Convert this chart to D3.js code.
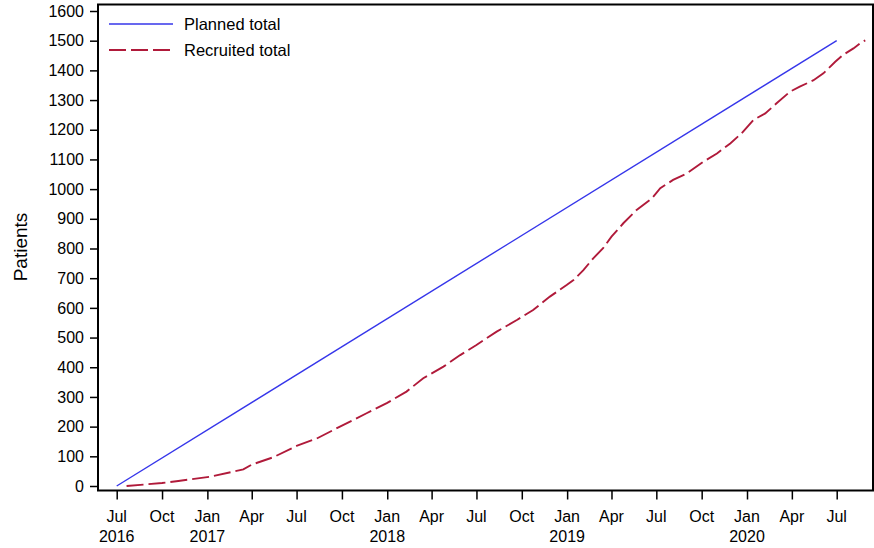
<!DOCTYPE html>
<html>
<head>
<meta charset="utf-8">
<script src="https://cdn.jsdelivr.net/npm/d3@7"></script>
<style>
  html, body { margin: 0; padding: 0; background: #fff; }
  svg { display: block; font-family: Arial, "Liberation Sans", sans-serif; }
</style>
</head>
<body>
<svg id="chart" width="874" height="548"></svg>
<script>
// Planned recruitment: straight line from start to target
const plannedDates = ["2016-07-01", "2020-07-01"];
const plannedValues = [0, 1500];

// Cumulative recruited patients
const recruitedDates = [
  "2016-07-21", "2016-10-01", "2016-11-03", "2017-01-06", "2017-03-15", "2017-04-01",
  "2017-05-15", "2017-07-01", "2017-08-11", "2017-09-27", "2017-11-20", "2017-12-31",
  "2018-02-09", "2018-03-15", "2018-04-25", "2018-05-29", "2018-07-01", "2018-08-11",
  "2018-09-21", "2018-10-24", "2018-11-27", "2018-12-31", "2019-01-14", "2019-02-03",
  "2019-02-23", "2019-03-15", "2019-04-01", "2019-04-25", "2019-05-22", "2019-06-22",
  "2019-07-09", "2019-08-04", "2019-09-01", "2019-10-04", "2019-11-01", "2019-11-28",
  "2019-12-21", "2020-01-14", "2020-02-07", "2020-03-01", "2020-03-28", "2020-04-17",
  "2020-05-15", "2020-06-04", "2020-06-28", "2020-07-14", "2020-08-04", "2020-08-20",
  "2020-08-28"
];
const recruitedValues = [
  0, 10, 17, 31, 56, 72,
  97, 135, 160, 200, 245, 279,
  318, 363, 402, 441, 475, 520,
  559, 593, 638, 677, 694, 727,
  767, 801, 840, 885, 930, 969,
  1003, 1031, 1053, 1092, 1120, 1154,
  1188, 1233, 1255, 1289, 1328, 1345,
  1367, 1390, 1429, 1452, 1474, 1494,
  1501
];

const yTicks = d3.range(0, 1601, 100);
const xTickDates = [
  "2016-07-01", "2016-10-01", "2017-01-01", "2017-04-01", "2017-07-01", "2017-10-01",
  "2018-01-01", "2018-04-01", "2018-07-01", "2018-10-01", "2019-01-01", "2019-04-01",
  "2019-07-01", "2019-10-01", "2020-01-01", "2020-04-01", "2020-07-01"
];
const monthLabels = ["Jul", "Oct", "Jan", "Apr", "Jul", "Oct", "Jan", "Apr", "Jul", "Oct",
                     "Jan", "Apr", "Jul", "Oct", "Jan", "Apr", "Jul"];
const yearLabels = ["2016", "", "2017", "", "", "", "2018", "", "", "", "2019", "", "", "", "2020", "", ""];

const seriesNames = ["Planned total", "Recruited total"];
const blue = "#3636ea";
const red = "#b01a3a";

const parse = d3.timeParse("%Y-%m-%d");
const planned = plannedDates.map((d, i) => ({ date: parse(d), value: plannedValues[i] }));
const recruited = recruitedDates.map((d, i) => ({ date: parse(d), value: recruitedValues[i] }));

const svg = d3.select("#chart");

// Plot frame
const frame = { left: 98, right: 873, top: 4.5, bottom: 490.5 };

const x = d3.scaleTime()
  .domain([parse("2016-07-01"), parse("2020-07-01")])
  .range([116.7, 836.7]);
const y = d3.scaleLinear()
  .domain([0, 1600])
  .range([486, 11]);

// Lines
const line = d3.line()
  .x(d => x(d.date))
  .y(d => y(d.value));

svg.append("path")
  .datum(planned)
  .attr("d", line)
  .attr("fill", "none")
  .attr("stroke", blue)
  .attr("stroke-width", 1.4);

svg.append("path")
  .datum(recruited)
  .attr("d", line)
  .attr("fill", "none")
  .attr("stroke", red)
  .attr("stroke-width", 1.9)
  .attr("stroke-dasharray", "17,5");

// Frame box
svg.append("rect")
  .attr("x", frame.left)
  .attr("y", frame.top)
  .attr("width", frame.right - frame.left)
  .attr("height", frame.bottom - frame.top)
  .attr("fill", "none")
  .attr("stroke", "#000")
  .attr("stroke-width", 2);

// Y axis
const yAxis = d3.axisLeft(y)
  .tickValues(yTicks)
  .tickSize(8)
  .tickPadding(6)
  .tickFormat(d3.format("d"));
const gy = svg.append("g")
  .attr("transform", `translate(${frame.left},0)`)
  .call(yAxis);
gy.select(".domain").remove();
gy.selectAll(".tick line").attr("stroke", "#000").attr("stroke-width", 1.5);
gy.selectAll(".tick text")
  .attr("font-size", 16)
  .attr("font-family", "Arial, 'Liberation Sans', sans-serif")
  .attr("fill", "#000");

// X axis
const xAxis = d3.axisBottom(x)
  .tickValues(xTickDates.map(parse))
  .tickSize(9)
  .tickFormat("");
const gx = svg.append("g")
  .attr("transform", `translate(0,${frame.bottom})`)
  .call(xAxis);
gx.select(".domain").remove();
gx.selectAll(".tick line").attr("stroke", "#000").attr("stroke-width", 1.5);

const xLabels = svg.append("g")
  .attr("font-size", 16)
  .attr("font-family", "Arial, 'Liberation Sans', sans-serif")
  .attr("text-anchor", "middle")
  .attr("fill", "#000");
xTickDates.forEach((d, i) => {
  const px = x(parse(d));
  xLabels.append("text").attr("x", px).attr("y", 522).text(monthLabels[i]);
  if (yearLabels[i]) {
    xLabels.append("text").attr("x", px).attr("y", 542).text(yearLabels[i]);
  }
});

// Y axis title
svg.append("text")
  .attr("transform", "translate(27,247) rotate(-90)")
  .attr("text-anchor", "middle")
  .attr("font-size", 19)
  .attr("font-family", "Arial, 'Liberation Sans', sans-serif")
  .text("Patients");

// Legend
const legend = svg.append("g")
  .attr("font-size", 16.5)
  .attr("font-family", "Arial, 'Liberation Sans', sans-serif");
const legendItems = [
  { name: seriesNames[0], color: blue, dash: null, width: 1.4 },
  { name: seriesNames[1], color: red, dash: "17,5", width: 1.9 }
];
legendItems.forEach((it, i) => {
  const ly = 24 + i * 26;
  legend.append("line")
    .attr("x1", 109).attr("x2", 173)
    .attr("y1", ly).attr("y2", ly)
    .attr("stroke", it.color)
    .attr("stroke-width", it.width)
    .attr("stroke-dasharray", it.dash);
  legend.append("text")
    .attr("x", 184).attr("y", ly + 6)
    .text(it.name);
});
</script>
</body>
</html>
